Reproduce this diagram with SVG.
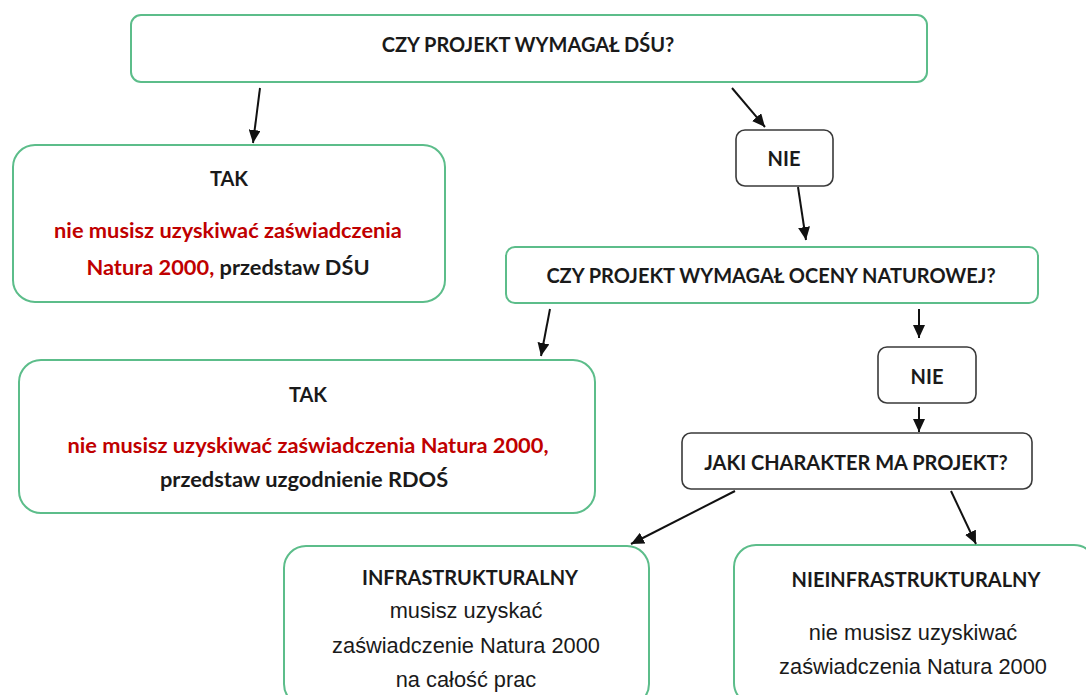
<svg xmlns="http://www.w3.org/2000/svg" width="1086" height="695" viewBox="0 0 1086 695">
<style>
.g{fill:#fff;stroke:#5cbd8a;stroke-width:2}
.d{fill:#fff;stroke:#3a3a3a;stroke-width:1.6}
.b{font-family:Lato,"Open Sans","Noto Sans",sans-serif;font-weight:bold;font-size:20px;fill:#1a1a1a;text-anchor:middle}
.m{font-size:21.8px}
.r{fill:#c00000}
.n{font-family:"Liberation Sans",Arial,sans-serif;font-size:21.8px;fill:#1a1a1a;text-anchor:middle}
.c line{stroke:#111;stroke-width:2;marker-end:url(#ah)}
</style>
<defs>
<marker id="ah" markerUnits="userSpaceOnUse" markerWidth="14" markerHeight="12" refX="13" refY="6" orient="auto">
<path d="M0,0 L13,6 L0,12 z" fill="#111"/>
</marker>
</defs>
<rect width="1086" height="695" fill="#fff"/>
<g id="q1">
<rect class="g" x="131" y="15" width="796" height="67" rx="10"/>
<text class="b" x="528" y="52">CZY PROJEKT WYMAGAŁ DŚU?</text>
</g>
<g id="tak1">
<rect class="g" x="13" y="145" width="432" height="157" rx="22"/>
<text class="b" x="229" y="186">TAK</text>
<text class="b m r" x="228" y="238">nie musisz uzyskiwać zaświadczenia</text>
<text class="b m" x="228" y="275"><tspan class="r">Natura 2000,</tspan> przedstaw DŚU</text>
</g>
<g id="nie1">
<rect class="d" x="736" y="130" width="97" height="56" rx="9"/>
<text class="b" x="784" y="166">NIE</text>
</g>
<g id="q2">
<rect class="g" x="506" y="247" width="532" height="56" rx="9"/>
<text class="b" x="771" y="283">CZY PROJEKT WYMAGAŁ OCENY NATUROWEJ?</text>
</g>
<g id="tak2">
<rect class="g" x="19" y="360" width="576" height="153" rx="22"/>
<text class="b" x="308" y="402">TAK</text>
<text class="b m r" x="308" y="453">nie musisz uzyskiwać zaświadczenia Natura 2000,</text>
<text class="b m" x="304" y="487">przedstaw uzgodnienie RDOŚ</text>
</g>
<g id="nie2">
<rect class="d" x="878" y="347" width="98" height="56" rx="9"/>
<text class="b" x="927" y="384">NIE</text>
</g>
<g id="q3">
<rect class="d" x="682" y="433" width="350" height="56" rx="9"/>
<text class="b" x="856" y="470">JAKI CHARAKTER MA PROJEKT?</text>
</g>
<g id="infra">
<rect class="g" x="284" y="546" width="365" height="160" rx="22"/>
<text class="b" x="470" y="585">INFRASTRUKTURALNY</text>
<text class="n" x="466" y="618">musisz uzyskać</text>
<text class="n" x="466" y="653">zaświadczenie Natura 2000</text>
<text class="n" x="466" y="687">na całość prac</text>
</g>
<g id="nieinfra">
<rect class="g" x="734" y="545" width="362" height="160" rx="22"/>
<text class="b" x="916" y="587">NIEINFRASTRUKTURALNY</text>
<text class="n" x="913" y="640">nie musisz uzyskiwać</text>
<text class="n" x="913" y="674">zaświadczenia Natura 2000</text>
</g>
<g class="c" id="connectors">
<line x1="260" y1="88" x2="253" y2="143"/>
<line x1="732" y1="88" x2="765" y2="127"/>
<line x1="798" y1="187" x2="806" y2="240"/>
<line x1="550" y1="309" x2="541" y2="356"/>
<line x1="919" y1="309" x2="919" y2="338"/>
<line x1="919" y1="407" x2="919" y2="432"/>
<line x1="735" y1="491" x2="631" y2="544"/>
<line x1="951" y1="491" x2="976" y2="544"/>
</g>
</svg>
